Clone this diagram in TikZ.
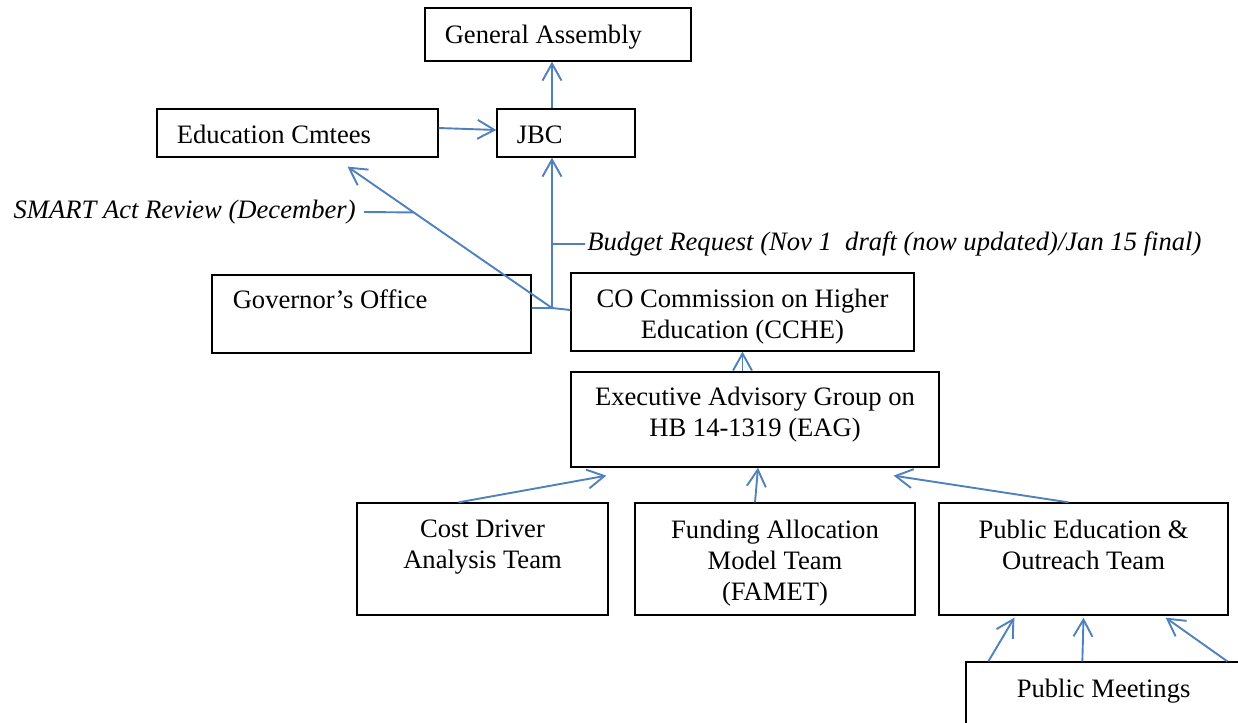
\documentclass[tikz,border=0pt]{standalone}
\usepackage{fontspec}
\setmainfont{Liberation Serif}
\usepackage{xcolor}
\usepackage{tikz}
\usetikzlibrary{
  arrows.meta,
  calc,
  fit,
  positioning
}
\definecolor{linkblue}{HTML}{4F81BD}
\tikzset{
  box/.style={draw, line width=0.65pt, inner sep=0pt},
  txt/.style={font=\fontsize{13.3}{15.5}\selectfont, inner sep=0pt, align=center},
  note/.style={txt, font=\fontsize{13.3}{15.5}\selectfont\itshape},
  link/.style={
    ->,
    >={Straight Barb[length=8.5pt,width=9.5pt]},
    color=linkblue,
    line width=0.95pt},
  tie/.style={draw=linkblue, line width=0.95pt}
  }

\begin{document}
\begin{tikzpicture}[x=0.5pt, y=-0.5pt]
    \useasboundingbox (0,0) rectangle (1238,723);
    % boxes
    \node[box, fit={(425,8) (691,61)}] (ga) {};
    \node[box, fit={(157,109) (438,157)}] (edc) {};
    \node[box, fit={(497,109) (635,157)}] (jbc) {};
    \node[box, fit={(212,275) (531,353)}] (gov) {};
    \node[box, fit={(571,273) (914,351)}] (cche) {};
    \node[box, fit={(571,372) (939,467)}] (eag) {};
    \node[box, fit={(357,503) (608,615)}] (cost) {};
    \node[box, fit={(635,503) (915,615)}] (famet) {};
    \node[box, fit={(939,503) (1228,615)}] (pubed) {};
    \node[box, fit={(966,662) (1260,760)}] (pm) {};
    % texts in the boxes
    \node[txt, below right=8.5pt and 10pt of ga.north west] (ga-t) {General Assembly};
    \node[txt, below right=8pt and 10pt of edc.north west] (edc-t) {Education Cmtees};
    \node[txt, below right=8.7pt and 10pt of jbc.north west] (jbc-t) {JBC};
    \node[txt, below right=7.5pt and 10.5pt of gov.north west] (gov-t) {Governor’s Office};
    \node[txt, below=8pt of cche.north] (cche-t) {CO Commission on Higher\\Education (CCHE)};
    \node[txt, below=7.5pt of eag.north] (eag-t) {Executive Advisory Group on\\HB 14-1319 (EAG)};
    \node[txt, below=8.5pt of cost.north] (cost-t) {Cost Driver\\Analysis Team};
    \node[txt, below=8.5pt of famet.north] (famet-t) {Funding Allocation\\Model Team\\(FAMET)};
    \node[txt, below=8.5pt of pubed.north] (pubed-t) {Public Education \&\\Outreach Team};
    \node[txt, below right=8.5pt and 25.5pt of pm.north west] (pm-t) {Public Meetings};
    % joints and labels
    \coordinate (hub) at (552,308);
    \coordinate (edtip) at ([shift={(25pt,-4.5pt)}]edc.south);
    \coordinate (smart) at (364,212);
    \coordinate (budget) at (585,244);
    \node[note, left=4pt of smart] (smart-t) {SMART Act Review (December)};
    \node[note, right=1pt of budget] (budget-t) {Budget Request (Nov 1~ draft (now updated)/Jan 15 final)};
    \path [link]
      (jbc.north -| hub) edge (ga.south -| hub)
      ([yshift=2.5pt]edc.east) edge ([yshift=1.5pt]jbc.west)
      (hub) edge (hub |- jbc.south)
      (hub) edge (edtip)
      (eag.north -| cche.south) edge (cche.south)
      ([xshift=-12pt]cost.north) edge ([shift={(18pt,-4pt)}]eag.south west)
      ([xshift=-10pt]famet.north) edge ([xshift=1.5pt]eag.south)
      ([xshift=-7.5pt]pubed.north) edge ([shift={(-23pt,-4pt)}]eag.south east)
      ([xshift=11.5pt]pm.north west) edge ([shift={(38pt,-1pt)}]pubed.south west)
      ([xshift=58.5pt]pm.north west) edge ([yshift=-1pt]pubed.south)
      ([xshift=131pt]pm.north west) edge ([shift={(-31.5pt,-1pt)}]pubed.south east);
    \draw [tie]
      (gov.east |- hub) -- (hub) -- ([yshift=-1pt]cche.west |- hub)
      (smart) -- ($(hub)!0.676!(edtip)$)
      (budget) -- (budget -| hub);
  \end{tikzpicture}
\end{document}
